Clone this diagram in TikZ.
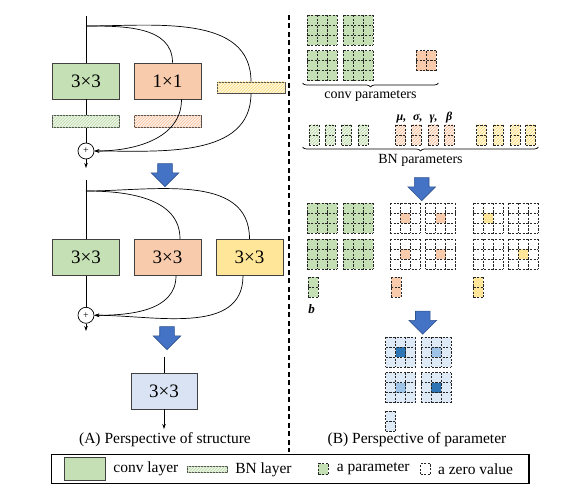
\documentclass[tikz,border=0pt]{standalone}
\usepackage{fontspec}
\setmainfont{Liberation Serif}
\usepackage{tikz}
\tikzset{>=latex}
\usetikzlibrary{arrows.meta,positioning,patterns,shapes.arrows,decorations.pathreplacing}
\definecolor{kgreen}{RGB}{197,224,180}
\definecolor{korange}{RGB}{248,203,173}
\definecolor{kyellow}{RGB}{255,230,153}
\definecolor{kblue}{RGB}{218,227,243}
\definecolor{gblue}{RGB}{222,235,247}
\definecolor{hdark}{RGB}{46,117,182}
\definecolor{hlight}{RGB}{157,195,230}
\definecolor{arfill}{RGB}{68,114,196}
\definecolor{arline}{RGB}{47,82,143}
\definecolor{hgbg}{RGB}{236,245,230}
\definecolor{hgln}{RGB}{185,216,165}
\definecolor{hobg}{RGB}{253,238,228}
\definecolor{holn}{RGB}{246,192,156}
\definecolor{hybg}{RGB}{255,245,215}
\definecolor{hyln}{RGB}{250,222,130}
\tikzset{
	kbox/.style={
		rectangle, draw=black!75, line width=0.9pt,
		minimum width=67pt, minimum height=36pt, inner sep=0pt,
		font=\fontsize{19}{22}\selectfont,
	},
	bnbar/.style={
		rectangle, draw=black!70, line width=0.7pt,
		minimum width=67pt, minimum height=12pt, inner sep=0pt,
	},
	hatchg/.style={fill=hgbg, postaction={pattern=north east lines, pattern color=hgln}},
	hatcho/.style={fill=hobg, postaction={pattern=north east lines, pattern color=holn}},
	hatchy/.style={fill=hybg, postaction={pattern=north east lines, pattern color=hyln}},
	addop/.style={circle, draw, line width=0.7pt, minimum size=16pt, inner sep=0pt, font=\fontsize{10}{10}\selectfont},
	line/.style={draw, line width=0.7pt},
	flow/.style={line, -{Stealth[length=5pt,width=3.5pt]}},
	bigarrow/.style={
		single arrow, shape border rotate=270, draw=arline, line width=0.6pt, fill=arfill,
		minimum height=23pt, minimum width=27pt, inner sep=7pt,
		single arrow head extend=6.5pt, single arrow tip angle=90,
	},
	cellline/.style={draw=black!85, line width=0.75pt, dash pattern=on 2.2pt off 1.4pt},
	cellbox/.style={rectangle, cellline, minimum width=10pt, minimum height=11pt, inner sep=0pt},
	brace/.style={line width=0.7pt, decorate, decoration={brace, mirror, amplitude=4pt}},
	caption/.style={font=\fontsize{15.5}{18}\selectfont},
	bracetext/.style={font=\fontsize{14}{16}\selectfont, inner sep=0pt},
	legtext/.style={font=\fontsize{15.5}{18}\selectfont, inner sep=0pt},
	greek/.style={font=\fontsize{12}{14}\selectfont\bfseries\itshape, inner sep=0pt},
}
% dashed parameter cells
\newcommand{\plines}[4]{%
	\foreach \cc in {0,...,#3} \draw[cellline] (#1,-#2) ++(\cc*10,0) -- ++(0,-#4*10);
	\foreach \rr in {0,...,#4} \draw[cellline] (#1,-#2) ++(0,-\rr*10) -- ++(#3*10,0);
}
\newcommand{\pgrid}[5]{%
	\fill[#5] (#1,-#2) rectangle ++(#3*10,-#4*10);
	\plines{#1}{#2}{#3}{#4}
}
\newcommand{\kgrid}[4]{%
	\fill[#3] (#1,-#2) rectangle ++(30,-30);
	\fill[#4] (#1+10,-#2-10) rectangle ++(10,-10);
	\plines{#1}{#2}{3}{3}
}
\begin{document}
\begin{tikzpicture}[x=1pt, y=1pt]
	\useasboundingbox (0,0) rectangle (576,-502);
	% (A) training-time block
	\coordinate (inA) at (86,-16);
	\coordinate (brA) at (86,-26);
	\node[kbox, fill=kgreen] (ka) at (86,-81) {3×3};
	\node[kbox, fill=korange] (kb) at (167.5,-81) {1×1};
	\node[bnbar, hatchy, minimum width=68pt, minimum height=11pt] (bc) at (251,-87.5) {};
	\node[bnbar, hatchg, below=16pt of ka] (ba) {};
	\node[bnbar, hatcho, below=16pt of kb] (bb) {};
	\node[addop] (addA) at (86,-151) {+};
	\coordinate (outA) at (86,-168);
	\draw[line] (inA) -- (ka);
	\draw[line] (ka) -- (ba);
	\draw[line] (ba) -- (addA);
	\draw[flow] (addA) -- (outA);
	\draw[line] (brA) to[out=0, in=90] ([xshift=5pt]kb.north);
	\draw[line] (brA) to[out=0, in=90] (bc.north);
	\draw[flow] ([xshift=14pt]kb.south) to[out=-90, in=0] (addA.east);
	\draw[flow] (bc.south) to[out=-90, in=0] (addA.east);
	\node[bigarrow] (arA) at (165,-171.5) {};
	% (A) three 3x3 branches
	\coordinate (inB) at (86,-180);
	\coordinate (brB) at (86,-191);
	\node[kbox, fill=kgreen] (kd) at (86,-257.3) {3×3};
	\node[kbox, fill=korange] (ke) at (167.5,-257.3) {3×3};
	\node[kbox, fill=kyellow] (kf) at (249.5,-257.3) {3×3};
	\node[addop] (addB) at (86,-315.3) {+};
	\coordinate (outB) at (86,-331);
	\draw[line] (inB) -- (kd);
	\draw[line] (kd) -- (addB);
	\draw[flow] (addB) -- (outB);
	\draw[line] (brB) to[out=0, in=90] ([xshift=12.5pt]ke.north);
	\draw[line] (brB) to[out=0, in=90] (kf.north);
	\draw[flow] ([xshift=8.5pt]ke.south) to[out=-90, in=0] (addB.east);
	\draw[flow] ([xshift=-6.5pt]kf.south) to[out=-90, in=0] (addB.east);
	\node[bigarrow] (arB) at (167,-334.5) {};
	% (A) merged
	\coordinate (inC) at (164,-356.7);
	\node[kbox, fill=kblue, minimum width=66pt] (kg) at (164,-391) {3×3};
	\coordinate (outC) at (164,-429);
	\draw[line] (inC) -- (kg);
	\draw[flow] (kg) -- (outC);
	\node[caption] (capA) at (165,-440) {(A) Perspective of structure};
	% Separator
	\draw[line width=1.4pt, dash pattern=on 5pt off 3.5pt] (289,-15) -- (289,-452);
	% (B) conv parameters
	\kgrid{307.3}{15}{kgreen}{kgreen}
	\kgrid{343.3}{15}{kgreen}{kgreen}
	\kgrid{307.3}{50.7}{kgreen}{kgreen}
	\kgrid{343.3}{50.7}{kgreen}{kgreen}
	\pgrid{416}{50.7}{2}{2}{korange}
	\draw[brace] (302.7,-83) -- (438.3,-83) node[bracetext, midway, below=7pt] (lconv) {conv parameters};
	% (B) BN parameters
	\foreach \xx in {309,325,341.7,358} {\pgrid{\xx}{125}{1}{2}{hatchg}}
	\foreach \xx in {395.7,411.3,428.3,444} {\pgrid{\xx}{125}{1}{2}{hatcho}}
	\foreach \xx in {476.7,493.3,510,525.7} {\pgrid{\xx}{125}{1}{2}{hatchy}}
	\node[greek, anchor=base west] (lmu) at (396.5,-121) {μ,};
	\node[greek, anchor=base west] (lsigma) at (413,-121) {σ,};
	\node[greek, anchor=base west] (lgamma) at (429.5,-121) {γ,};
	\node[greek, anchor=base west] (lbeta) at (446,-121) {β};
	\draw[brace] (302.7,-147) -- (538.3,-147) node[bracetext, midway, below=7pt] (lbn) {BN parameters};
	\node[bigarrow] (arC) at (421.7,-185.5) {};
	% (B) equivalent kernels
	\kgrid{307.3}{203.3}{kgreen}{kgreen}
	\kgrid{343.3}{203.3}{kgreen}{kgreen}
	\kgrid{307.3}{239.3}{kgreen}{kgreen}
	\kgrid{343.3}{239.3}{kgreen}{kgreen}
	\kgrid{390}{203.3}{white}{korange}
	\kgrid{425.7}{203.3}{white}{korange}
	\kgrid{390}{239.3}{white}{korange}
	\kgrid{425.7}{239.3}{white}{korange}
	\kgrid{473.3}{203.3}{white}{kyellow}
	\kgrid{508.3}{203.3}{white}{white}
	\kgrid{473.3}{239.3}{white}{white}
	\kgrid{508.3}{239.3}{white}{kyellow}
	\pgrid{308.3}{277.3}{1}{2}{kgreen}
	\pgrid{391}{277.3}{1}{2}{korange}
	\pgrid{473.3}{277.3}{1}{2}{kyellow}
	\node[greek, font=\fontsize{13}{15}\selectfont\bfseries\itshape] (lb) at (311.7,-309.3) {b};
	\node[bigarrow] (arD) at (422.8,-319) {};
	% (B) merged kernel
	\kgrid{385.7}{337}{gblue}{hdark}
	\kgrid{421}{337}{gblue}{hlight}
	\kgrid{385.7}{372.7}{gblue}{hlight}
	\kgrid{421}{372.7}{gblue}{hdark}
	\pgrid{385.7}{411}{1}{2}{gblue}
	\node[caption] (capB) at (417,-440) {(B) Perspective of parameter};
	% Legend
	\node[draw, line width=1.5pt, minimum width=477.3pt, minimum height=29pt, inner sep=0pt] (legend) at (290.35,-468.8) {};
	\node[draw=black!75, line width=0.9pt, fill=kgreen, minimum width=41.7pt, minimum height=22.7pt, inner sep=0pt] (lgconv) at (84.9,-468.7) {};
	\node[legtext, right=7pt of lgconv] (lgconvt) {conv layer};
	\node[bnbar, hatchg, minimum width=40.4pt, minimum height=5.6pt] (lgbn) at (207.5,-469.5) {};
	\node[legtext, right=7pt of lgbn] (lgbnt) {BN layer};
	\node[cellbox, fill=kgreen] (lgpar) at (323.3,-469.2) {};
	\node[legtext, right=8pt of lgpar] (lgpart) {a parameter};
	\node[cellbox, fill=white] (lgzero) at (425.5,-469.2) {};
	\node[legtext, right=7pt of lgzero] (lgzerot) {a zero value};
\end{tikzpicture}
\end{document}
